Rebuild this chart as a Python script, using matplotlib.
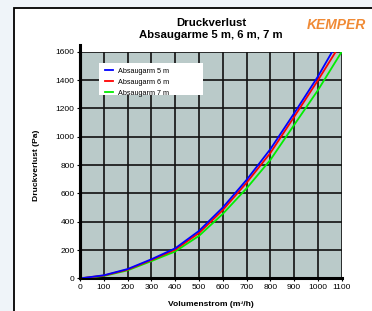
import matplotlib
matplotlib.use("Agg")
import matplotlib.pyplot as plt
from matplotlib.patches import Rectangle
from matplotlib.lines import Line2D

plt.rcParams['font.family'] = ['Liberation Sans', 'DejaVu Sans']

# volume flow (m3/h) and pressure loss (Pa)
flow_5m = [0, 100, 200, 300, 400, 500, 600, 700, 800, 900, 1000, 1060]
loss_5m = [0, 22, 66, 135, 212, 335, 500, 695, 912, 1165, 1425, 1600]
flow_6m = [0, 100, 200, 300, 400, 500, 600, 700, 800, 900, 1000, 1075]
loss_6m = [0, 20, 62, 130, 203, 320, 482, 675, 885, 1140, 1398, 1600]
flow_7m = [0, 100, 200, 300, 400, 500, 600, 700, 800, 900, 1000, 1100]
loss_7m = [0, 17, 57, 122, 190, 300, 455, 635, 836, 1083, 1328, 1600]

labels = ["Absaugarm 5 m", "Absaugarm 6 m", "Absaugarm 7 m"]
colors = ["#0000ff", "#ff0000", "#00ee00"]

x_ticks = list(range(0, 1101, 100))
y_ticks = list(range(0, 1601, 200))

fig = plt.figure(figsize=(3.72, 3.11), dpi=100, facecolor="#eff4f9")

# white panel with black frame
panel = Rectangle((14 / 372, -0.1), 1.2, 1.1 - 8 / 311, transform=fig.transFigure,
                  facecolor="white", edgecolor="black", linewidth=1.3, zorder=-1)
fig.patches.append(panel)

ax = fig.add_axes([80 / 372, 1 - 278.4 / 311, 261.7 / 372, 226.7 / 311])
ax.set_facecolor("#bacac9")

ax.plot(flow_7m, loss_7m, color=colors[2], lw=1.3, label=labels[2], zorder=3)
ax.plot(flow_6m, loss_6m, color=colors[1], lw=1.3, label=labels[1], zorder=4)
ax.plot(flow_5m, loss_5m, color=colors[0], lw=1.3, label=labels[0], zorder=5)

ax.set_xlim(0, 1100)
ax.set_ylim(0, 1600)
ax.set_xticks(x_ticks)
ax.set_yticks(y_ticks)
ax.tick_params(labelsize=6, length=2, width=0.8, pad=2)
ax.grid(True, color="#111111", lw=1.2)
ax.set_axisbelow(True)

for s in ["top", "right"]:
    ax.spines[s].set_visible(False)
ax.spines["left"].set_linewidth(2.2)
ax.spines["bottom"].set_linewidth(2.2)
ax.add_line(Line2D([0, 0], [0, 1.03], transform=ax.transAxes, color="black",
                   lw=2.2, clip_on=False, zorder=6))

ax.set_xlabel("Volumenstrom (m³/h)", fontsize=6.1, fontweight="bold", labelpad=7)
ax.set_ylabel("Druckverlust (Pa)", fontsize=6.1, fontweight="bold", labelpad=11)

fig.text(211 / 372, 1 - 22.7 / 311, "Druckverlust", ha="center", va="center",
         fontsize=8.2, fontweight="bold")
fig.text(211 / 372, 1 - 35 / 311, "Absaugarme 5 m, 6 m, 7 m", ha="center", va="center",
         fontsize=8.2, fontweight="bold")
fig.text(336 / 372, 1 - 25 / 311, "KEMPER", ha="center", va="center",
         fontsize=10, fontweight="bold", style="italic", color="#f08a35")

# legend box
ax.add_patch(Rectangle((0.074, 0.807), 0.397, 0.142, transform=ax.transAxes,
                       facecolor="white", edgecolor="none", zorder=7))
handles, labs = ax.get_legend_handles_labels()
order = [2, 1, 0]
leg = ax.legend([handles[i] for i in order], [labs[i] for i in order],
                loc="upper left", bbox_to_anchor=(0.075, 0.955), frameon=False,
                fontsize=5.2, handlelength=1.0, handletextpad=0.7,
                labelspacing=0.55, borderpad=0.3)
leg.set_zorder(8)

fig.savefig("out.png", dpi=100, facecolor=fig.get_facecolor())
